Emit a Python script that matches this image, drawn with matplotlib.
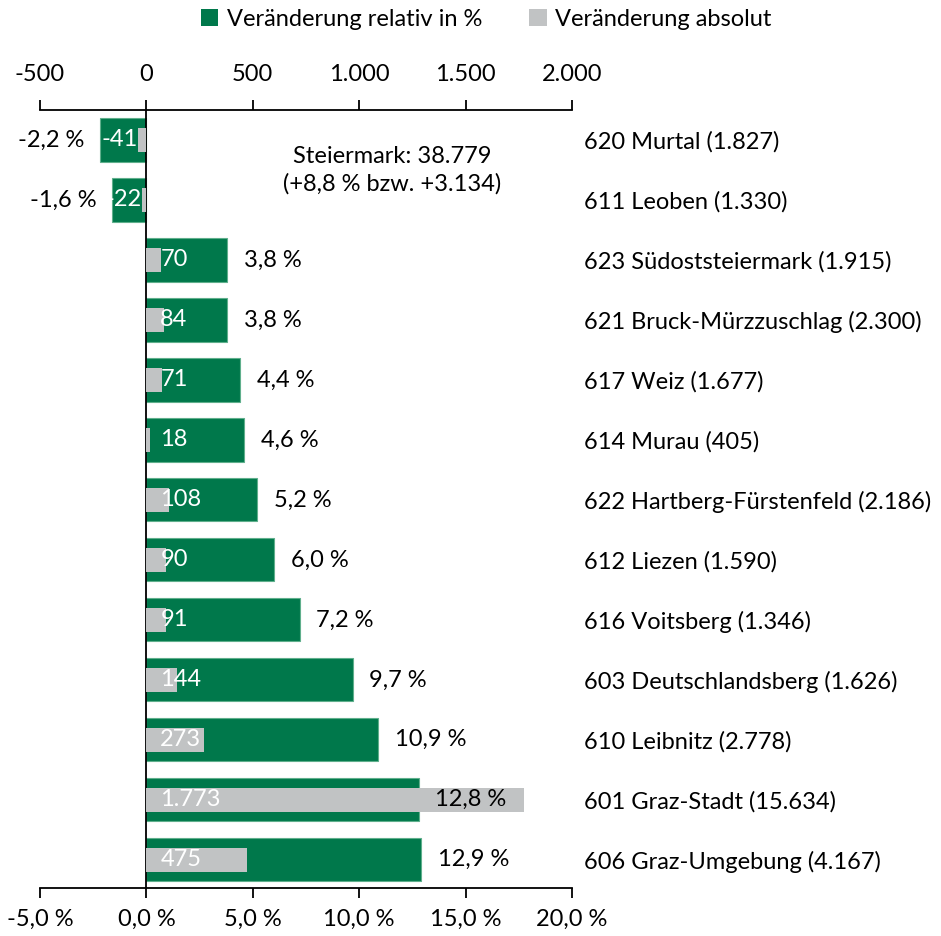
import matplotlib
matplotlib.use("Agg")
import matplotlib.pyplot as plt
from matplotlib.patches import Patch

# Data
regions = ["620 Murtal (1.827)", "611 Leoben (1.330)", "623 Südoststeiermark (1.915)",
           "621 Bruck-Mürzzuschlag (2.300)", "617 Weiz (1.677)", "614 Murau (405)",
           "622 Hartberg-Fürstenfeld (2.186)", "612 Liezen (1.590)", "616 Voitsberg (1.346)",
           "603 Deutschlandsberg (1.626)", "610 Leibnitz (2.778)", "601 Graz-Stadt (15.634)",
           "606 Graz-Umgebung (4.167)"]
rel_change = [-2.2, -1.6, 3.8, 3.8, 4.4, 4.6, 5.2, 6.0, 7.2, 9.7, 10.9, 12.8, 12.9]
abs_change = [-41, -22, 70, 84, 71, 18, 108, 90, 91, 144, 273, 1773, 475]

pct_ticks = [-5, 0, 5, 10, 15, 20]
abs_ticks = [-500, 0, 500, 1000, 1500, 2000]

GREEN = "#00784B"
GREEN_EDGE = "#5FAF8C"
GREY = "#C1C3C4"
FONT = "Lato"
FS = 17

plt.rcParams["font.family"] = [FONT, "DejaVu Sans"]


def de_num(v, dec=0):
    s = f"{v:,.{dec}f}"
    return s.replace(",", "X").replace(".", ",").replace("X", ".")


fig = plt.figure(figsize=(9.41, 9.36), dpi=100)
ax = fig.add_axes([40 / 941, 1 - 888 / 936, 532 / 941, 778 / 936])
ax2 = ax.twiny()

y = list(range(len(regions)))

# Relative change (bottom axis)
ax.barh(y, rel_change, height=0.72, color=GREEN, edgecolor=GREEN_EDGE, linewidth=0.8, zorder=2)
# Absolute change (top axis)
ax2.barh(y, abs_change, height=0.4, color=GREY, zorder=3)

ax.set_xlim(pct_ticks[0], pct_ticks[-1])
ax2.set_xlim(abs_ticks[0], abs_ticks[-1])
ax.set_ylim(len(regions) - 0.53, -0.5)

ax.axvline(0, color="black", linewidth=1.3, zorder=4)

# Axes styling
for a in (ax, ax2):
    for s in ("left", "right"):
        a.spines[s].set_visible(False)
ax.spines["top"].set_visible(False)
ax2.spines["bottom"].set_visible(False)
ax.spines["bottom"].set_linewidth(1.3)
ax2.spines["top"].set_linewidth(1.3)

ax.set_xticks(pct_ticks)
ax.set_xticklabels([de_num(t, 1) + " %" for t in pct_ticks], fontsize=FS)
ax.tick_params(axis="x", length=7, width=1.3, pad=8)
ax2.set_xticks(abs_ticks)
ax2.set_xticklabels([de_num(t) for t in abs_ticks], fontsize=FS)
ax2.tick_params(axis="x", length=7, width=1.3, pad=11)

ax.set_yticks(y)
ax.set_yticklabels(regions, fontsize=FS)
ax.yaxis.tick_right()
ax.tick_params(axis="y", length=0, pad=9)

# Labels for relative change (drawn on the top axes so they sit above the grey bars)
for yi, v in zip(y, rel_change):
    txt = de_num(v, 1) + " %"
    off, ha = (12, "left") if v >= 0 else (-11, "right")
    ax2.annotate(txt, (v, yi), xycoords=ax.transData, xytext=(off, 0),
                 textcoords="offset points", ha=ha, va="center", fontsize=FS, zorder=7)

# Labels for absolute change (white, inside base)
for yi, v in zip(y, abs_change):
    txt = de_num(v)
    if v >= 0:
        ax2.annotate(txt, (0, yi), xytext=(10, 0), textcoords="offset points",
                     ha="left", va="center", fontsize=FS, color="white", zorder=6)
    else:
        ax2.annotate(txt, (v, yi), xytext=(0, 0), textcoords="offset points",
                     ha="right", va="center", fontsize=FS, color="white", zorder=6)

ax2.text(1155, 0.5, "Steiermark: 38.779\n(+8,8 % bzw. +3.134)", ha="center", va="center",
         fontsize=FS, linespacing=1.35)

handles = [Patch(facecolor=GREEN, label="Veränderung relativ in %"),
           Patch(facecolor=GREY, label="Veränderung absolut")]
fig.legend(handles=handles, loc="center", bbox_to_anchor=(486 / 941, 1 - 19 / 936), ncol=2,
           frameon=False, fontsize=FS, handlelength=0.75, handleheight=0.75,
           handletextpad=0.35, columnspacing=2.0)

fig.savefig("out.png", dpi=100)
